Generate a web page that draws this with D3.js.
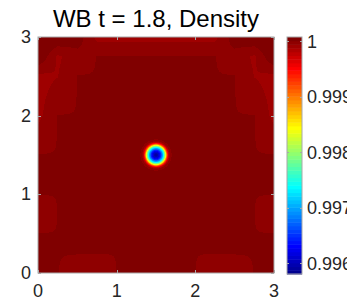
<!DOCTYPE html>
<html>
<head>
<meta charset="utf-8">
<script src="https://cdn.jsdelivr.net/npm/d3@7"></script>
<style>
  html, body { margin: 0; padding: 0; background: #fff; }
  text { font-family: "Liberation Sans", Arial, Helvetica, sans-serif; fill: #262626; }
</style>
</head>
<body>
<div id="chart"></div>
<script>
// axis ticks
var xTicks = [0, 1, 2, 3];
var yTicks = [0, 1, 2, 3];
var cTicks = [0.996, 0.997, 0.998, 0.999, 1];
var cRange = [0.99581, 1.000075];

// background density on a 0.25 grid, rows from y = 3 (top) down to y = 0
var gridX = [0, 0.25, 0.5, 0.75, 1, 1.25, 1.5, 1.75, 2, 2.25, 2.5, 2.75, 3];
var gridY = [3, 2.75, 2.5, 2.25, 2, 1.75, 1.5, 1.25, 1, 0.75, 0.5, 0.25, 0];
var gridRho = [
  [1.00008, 1.00008, 1.00005, 0.99992, 0.99992, 0.99992, 0.99992, 0.99992, 0.99992, 0.99992, 1.00005, 1.00008, 1.00008],
  [1.00008, 0.99993, 0.99998, 1.00001, 1.00001, 1.00001, 1.00001, 1.00001, 1.00001, 1.00001, 0.99998, 0.99993, 1.00008],
  [0.99992, 0.99994, 1.00001, 1.00001, 1.00001, 1.00001, 1.00001, 1.00001, 1.00001, 1.00001, 1.00001, 0.99994, 0.99992],
  [0.99992, 0.99997, 1.00001, 1.00001, 1.00001, 1.00001, 1.00001, 1.00001, 1.00001, 1.00001, 1.00001, 0.99997, 0.99992],
  [0.99992, 1.00001, 1.00001, 1.00001, 1.00001, 1.00001, 1.00001, 1.00001, 1.00001, 1.00001, 1.00001, 1.00001, 0.99992],
  [0.99997, 1.00001, 1.00001, 1.00001, 1.00001, 1.00001, 1.00001, 1.00001, 1.00001, 1.00001, 1.00001, 1.00001, 0.99997],
  [1.00001, 1.00001, 1.00001, 1.00001, 1.00001, 1.00001, 1.00001, 1.00001, 1.00001, 1.00001, 1.00001, 1.00001, 1.00001],
  [1.00001, 1.00001, 1.00001, 1.00001, 1.00001, 1.00001, 1.00001, 1.00001, 1.00001, 1.00001, 1.00001, 1.00001, 1.00001],
  [1.00001, 1.00001, 1.00001, 1.00001, 1.00001, 1.00001, 1.00001, 1.00001, 1.00001, 1.00001, 1.00001, 1.00001, 1.00001],
  [0.99995, 1.00001, 1.00001, 1.00001, 1.00001, 1.00001, 1.00001, 1.00001, 1.00001, 1.00001, 1.00001, 1.00001, 0.99995],
  [1.00001, 1.00001, 1.00001, 1.00001, 1.00001, 1.00001, 1.00001, 1.00001, 1.00001, 1.00001, 1.00001, 1.00001, 1.00001],
  [1.00001, 1.00001, 1.00001, 1.00001, 1.00001, 1.00001, 1.00001, 1.00001, 1.00001, 1.00001, 1.00001, 1.00001, 1.00001],
  [1.00008, 1.00001, 0.99998, 0.99994, 1.00001, 1.00001, 1.00001, 1.00001, 1.00001, 0.99994, 0.99998, 1.00001, 1.00008]
];

// radial density profile of the pulse centred at (1.5, 1.5)
var pulseCenter = [1.5, 1.5];
var pulseR = [0, 0.02, 0.04, 0.06, 0.08, 0.10, 0.12, 0.14, 0.16, 0.18, 0.20];
var pulseRho = [0.99590, 0.99598, 0.99615, 0.99645, 0.99692, 0.99752, 0.99828, 0.99922, 0.99978, 0.99999, 1.00001];
var pulseBase = 1.00001;

var W = 347, H = 302;
var m = {left: 38, right: 274, top: 37, bottom: 273};
var cbLeft = 287, cbRight = 302;

// MATLAB jet(64)
function jet(n64) {
  var n = Math.ceil(n64 / 4);
  var u = [];
  for (var i = 1; i <= n; i++) u.push(i / n);
  for (var i = 1; i < n; i++) u.push(1);
  for (var i = n; i >= 1; i--) u.push(i / n);
  var g0 = Math.ceil(n / 2) - (n64 % 4 == 1 ? 1 : 0);
  var J = d3.range(n64).map(function() { return [0, 0, 0]; });
  u.forEach(function(v, k) {
    var g = g0 + k + 1, r = g + n, b = g - n;
    if (r <= n64) J[r - 1][0] = v;
    if (g >= 1 && g <= n64) J[g - 1][1] = v;
    if (b >= 1) J[b - 1][2] = v;
  });
  return J.map(function(c) { return d3.rgb(c[0] * 255, c[1] * 255, c[2] * 255); });
}
var jetColors = jet(64);

var x = d3.scaleLinear().domain([0, 3]).range([m.left, m.right]);
var y = d3.scaleLinear().domain([0, 3]).range([m.bottom, m.top]);
var color = d3.scaleQuantize().domain(cRange).range(jetColors);
var profile = d3.scaleLinear().domain(pulseR).range(pulseRho).clamp(true);
var gx = d3.scaleLinear().domain([0, 3]).range([0, gridX.length - 1]).clamp(true);
var gy = d3.scaleLinear().domain([3, 0]).range([0, gridY.length - 1]).clamp(true);

function background(px, py) {
  var fx = gx(px), fy = gy(py);
  var i = Math.min(Math.floor(fx), gridX.length - 2), j = Math.min(Math.floor(fy), gridY.length - 2);
  var tx = fx - i, ty = fy - j;
  var a = gridRho[j][i], b = gridRho[j][i + 1], c = gridRho[j + 1][i], d = gridRho[j + 1][i + 1];
  return (a * (1 - tx) + b * tx) * (1 - ty) + (c * (1 - tx) + d * tx) * ty;
}

var svg = d3.select("#chart").append("svg")
  .attr("width", W)
  .attr("height", H);

svg.append("rect").attr("width", W).attr("height", H).attr("fill", "#fff");

// density field, one canvas pixel per screen pixel
var pw = m.right - m.left, ph = m.bottom - m.top;
var canvas = document.createElement("canvas");
canvas.width = pw;
canvas.height = ph;
var ctx = canvas.getContext("2d");
var img = ctx.createImageData(pw, ph);
for (var j = 0; j < ph; j++) {
  for (var i = 0; i < pw; i++) {
    var px = x.invert(m.left + i + 0.5), py = y.invert(m.top + j + 0.5);
    var r = Math.hypot(px - pulseCenter[0], py - pulseCenter[1]);
    var v = background(px, py) + profile(r) - pulseBase;
    var c = color(v);
    var k = (j * pw + i) * 4;
    img.data[k] = c.r; img.data[k + 1] = c.g; img.data[k + 2] = c.b; img.data[k + 3] = 255;
  }
}
ctx.putImageData(img, 0, 0);

svg.append("image")
  .attr("x", m.left)
  .attr("y", m.top)
  .attr("width", pw)
  .attr("height", ph)
  .attr("preserveAspectRatio", "none")
  .attr("href", canvas.toDataURL());

// axes box and inward ticks
var tickLen = 3;
var axisColor = "#a8a8a8";
svg.append("rect")
  .attr("x", m.left).attr("y", m.top).attr("width", pw).attr("height", ph)
  .attr("fill", "none").attr("stroke", axisColor).attr("stroke-width", 1);

svg.selectAll(".xtick").data(xTicks).enter().append("path")
  .attr("d", function(d) {
    var X = Math.round(x(d)) + 0.5;
    return "M" + X + "," + m.bottom + "v" + (-tickLen) + "M" + X + "," + m.top + "v" + tickLen;
  })
  .attr("stroke", axisColor);
svg.selectAll(".ytick").data(yTicks).enter().append("path")
  .attr("d", function(d) {
    var Y = Math.round(y(d)) + 0.5;
    return "M" + m.left + "," + Y + "h" + tickLen + "M" + m.right + "," + Y + "h" + (-tickLen);
  })
  .attr("stroke", axisColor);

svg.selectAll(".xlab").data(xTicks).enter().append("text")
  .attr("x", function(d) { return x(d); })
  .attr("y", 297)
  .attr("text-anchor", "middle")
  .attr("font-size", 18)
  .text(function(d) { return d; });

svg.selectAll(".ylab").data(yTicks).enter().append("text")
  .attr("x", 31)
  .attr("y", function(d) { return y(d) + 6; })
  .attr("text-anchor", "end")
  .attr("font-size", 18)
  .text(function(d) { return d; });

// title
svg.append("text")
  .attr("x", (m.left + m.right) / 2)
  .attr("y", 27)
  .attr("text-anchor", "middle")
  .attr("font-size", 24)
  .style("fill", "#000")
  .text("WB t = 1.8, Density");

// colorbar
var cy = d3.scaleLinear().domain(cRange).range([m.bottom + 1, m.top]);
var step = (cRange[1] - cRange[0]) / jetColors.length;
svg.selectAll(".cb").data(jetColors).enter().append("rect")
  .attr("x", cbLeft)
  .attr("width", cbRight - cbLeft)
  .attr("y", function(d, i) { return cy(cRange[0] + (i + 1) * step); })
  .attr("height", function(d, i) { return cy(cRange[0] + i * step) - cy(cRange[0] + (i + 1) * step) + 0.5; })
  .attr("fill", function(d) { return d; });
svg.append("rect")
  .attr("x", cbLeft).attr("y", m.top).attr("width", cbRight - cbLeft).attr("height", m.bottom + 1 - m.top)
  .attr("fill", "none").attr("stroke", axisColor);
svg.selectAll(".ctick").data(cTicks).enter().append("path")
  .attr("d", function(d) {
    var Y = Math.round(cy(d)) + 0.5;
    return "M" + cbLeft + "," + Y + "h2M" + cbRight + "," + Y + "h-2";
  })
  .attr("stroke", axisColor);
svg.selectAll(".clab").data(cTicks).enter().append("text")
  .attr("x", 307)
  .attr("y", function(d) { return cy(d) + 6.5; })
  .attr("font-size", 18)
  .text(function(d) { return d; });
</script>
</body>
</html>
